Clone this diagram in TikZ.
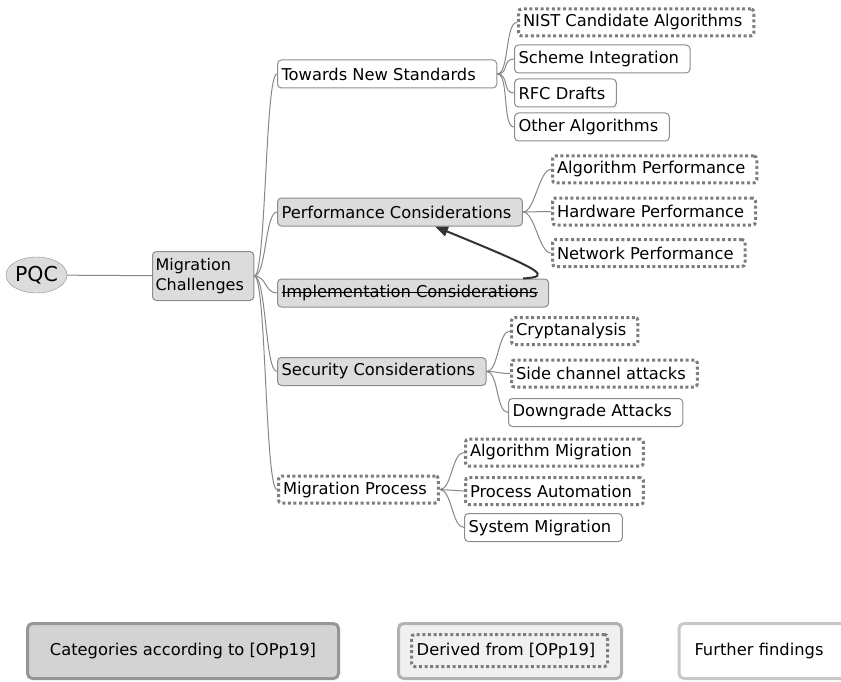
\documentclass[tikz,border=0pt]{standalone}
\usepackage{fontspec}
\setmainfont{DejaVu Sans}
\usepackage{xcolor}
\usepackage{tikz}
\usetikzlibrary{arrows.meta, shapes.geometric}
\definecolor{catgray}{RGB}{220,220,220}
\definecolor{edgegray}{RGB}{140,140,140}
\definecolor{dotgray}{RGB}{125,125,125}
\definecolor{linkgray}{RGB}{135,135,135}
\definecolor{arrowdark}{RGB}{51,51,51}
\definecolor{legcatfill}{RGB}{211,211,211}
\definecolor{legcatdraw}{RGB}{150,150,150}
\definecolor{legderfill}{RGB}{240,240,240}
\definecolor{legderdraw}{RGB}{178,178,178}
\definecolor{legfurdraw}{RGB}{200,200,200}
\newcommand{\mapfont}{\fontsize{16.3}{21}\selectfont}
\newcommand{\rootfont}{\fontsize{20.5}{22}\selectfont}
\newcommand{\struckout}[1]{\setbox0=\hbox{#1}\rlap{\rule[0.3em]{\wd0}{1pt}}\box0}

\begin{document}
\begin{tikzpicture}[
    x=1pt, y=-1pt,
    rootnode/.style={ellipse, draw=edgegray, fill=catgray, minimum width=61pt, minimum height=36pt, inner sep=0pt, font=\rootfont},
    mapnode/.style={rectangle, anchor=west, rounded corners=4pt, minimum height=28pt, inner xsep=4pt, inner ysep=0pt, font=\mapfont, execute at end node={\hspace{7pt}}},
    catbox/.style={mapnode, draw=edgegray, fill=catgray, line width=1pt},
    furtherbox/.style={mapnode, draw=edgegray, fill=white, line width=1pt},
    derivedbox/.style={mapnode, draw=dotgray, fill=white, line width=3pt, dash pattern=on 3pt off 2.6pt, rounded corners=3pt, minimum height=27pt, inner xsep=4.5pt},
    legendbox/.style={rectangle, rounded corners=5pt, line width=3pt, minimum height=55pt, font=\mapfont},
    branch/.style={draw=linkgray, line width=1pt, out=0, in=180, out distance=12pt, in distance=12pt},
    relarrow/.style={-{Triangle[length=13pt, width=10pt]}, draw=arrowdark, line width=2pt}
]
\useasboundingbox (0,0) rectangle (841,682);
\clip (0,0) rectangle (841,682);

% Root and main node
\node[rootnode] (pqc) at (36.5,275) {PQC};
\node[catbox, align=left, minimum height=49pt, inner xsep=3pt, execute at end node={}, font=\fontsize{16}{20}\selectfont] (challenges) at (152,276) {Migration\\Challenges};

% Categories
\node[furtherbox, execute at end node={\hspace{10pt}}] (towards) at (277,74) {Towards New Standards};
\node[catbox] (perf) at (277,212) {Performance Considerations};
\node[catbox] (impl) at (277,293) {\struckout{Implementation Considerations}};
\node[catbox] (sec) at (277,371.5) {Security Considerations};
\node[derivedbox] (process) at (277,489.5) {Migration Process};

% Towards New Standards
\node[derivedbox] (nist) at (517,22.5) {NIST Candidate Algorithms};
\node[furtherbox] (scheme) at (514,59) {Scheme Integration};
\node[furtherbox] (rfc) at (514,93) {RFC Drafts};
\node[furtherbox] (otheralg) at (514,127) {Other Algorithms};

% Performance
\node[derivedbox] (algperf) at (551,169.5) {Algorithm Performance};
\node[derivedbox] (hwperf) at (551,211.5) {Hardware Performance};
\node[derivedbox] (netperf) at (551,253) {Network Performance};

% Security
\node[derivedbox] (crypt) at (510,331) {Cryptanalysis};
\node[derivedbox] (sidech) at (510,373.5) {Side channel attacks};
\node[furtherbox] (downgrade) at (508,412.5) {Downgrade Attacks};

% Migration process
\node[derivedbox] (algmig) at (464,452.5) {Algorithm Migration};
\node[derivedbox] (automation) at (464,491) {Process Automation};
\node[furtherbox] (sysmig) at (464,527.5) {System Migration};

% Connectors
\draw[draw=linkgray, line width=1pt] (pqc) -- (challenges);
\draw[branch] (challenges.east) to (towards.west);
\draw[branch] (challenges.east) to (perf.west);
\draw[branch] (challenges.east) to (impl.west);
\draw[branch] (challenges.east) to (sec.west);
\draw[branch] (challenges.east) to (process.west);
\draw[branch] (towards.east) to (nist.west);
\draw[branch] (towards.east) to (scheme.west);
\draw[branch] (towards.east) to (rfc.west);
\draw[branch] (towards.east) to (otheralg.west);
\draw[branch] (perf.east) to (algperf.west);
\draw[branch] (perf.east) to (hwperf.west);
\draw[branch] (perf.east) to (netperf.west);
\draw[branch] (sec.east) to (crypt.west);
\draw[branch] (sec.east) to (sidech.west);
\draw[branch] (sec.east) to (downgrade.west);
\draw[branch] (process.east) to (algmig.west);
\draw[branch] (process.east) to (automation.west);
\draw[branch] (process.east) to (sysmig.west);

% Implementation merged into performance
\draw[relarrow] ([xshift=-26pt]impl.north east) .. controls +(29,-2) and +(110,45) .. ([xshift=35pt]perf.south);

% Legend
\node[legendbox, fill=legcatfill, draw=legcatdraw, minimum width=311pt] (legcat) at (183,651) {Categories according to [OPp19]};
\node[legendbox, fill=legderfill, draw=legderdraw, minimum width=223pt] (legder) at (510,651) {};
\node[derivedbox, anchor=center, fill=legderfill, minimum width=196pt, minimum height=32pt, execute at end node={}] (legderin) at (509.5,650.5) {Derived from [OPp19]};
\node[legendbox, fill=white, draw=legfurdraw, anchor=west, text width=150pt, align=left, inner xsep=15.5pt] (legfur) at (677.5,651) {Further findings};

\end{tikzpicture}
\end{document}
